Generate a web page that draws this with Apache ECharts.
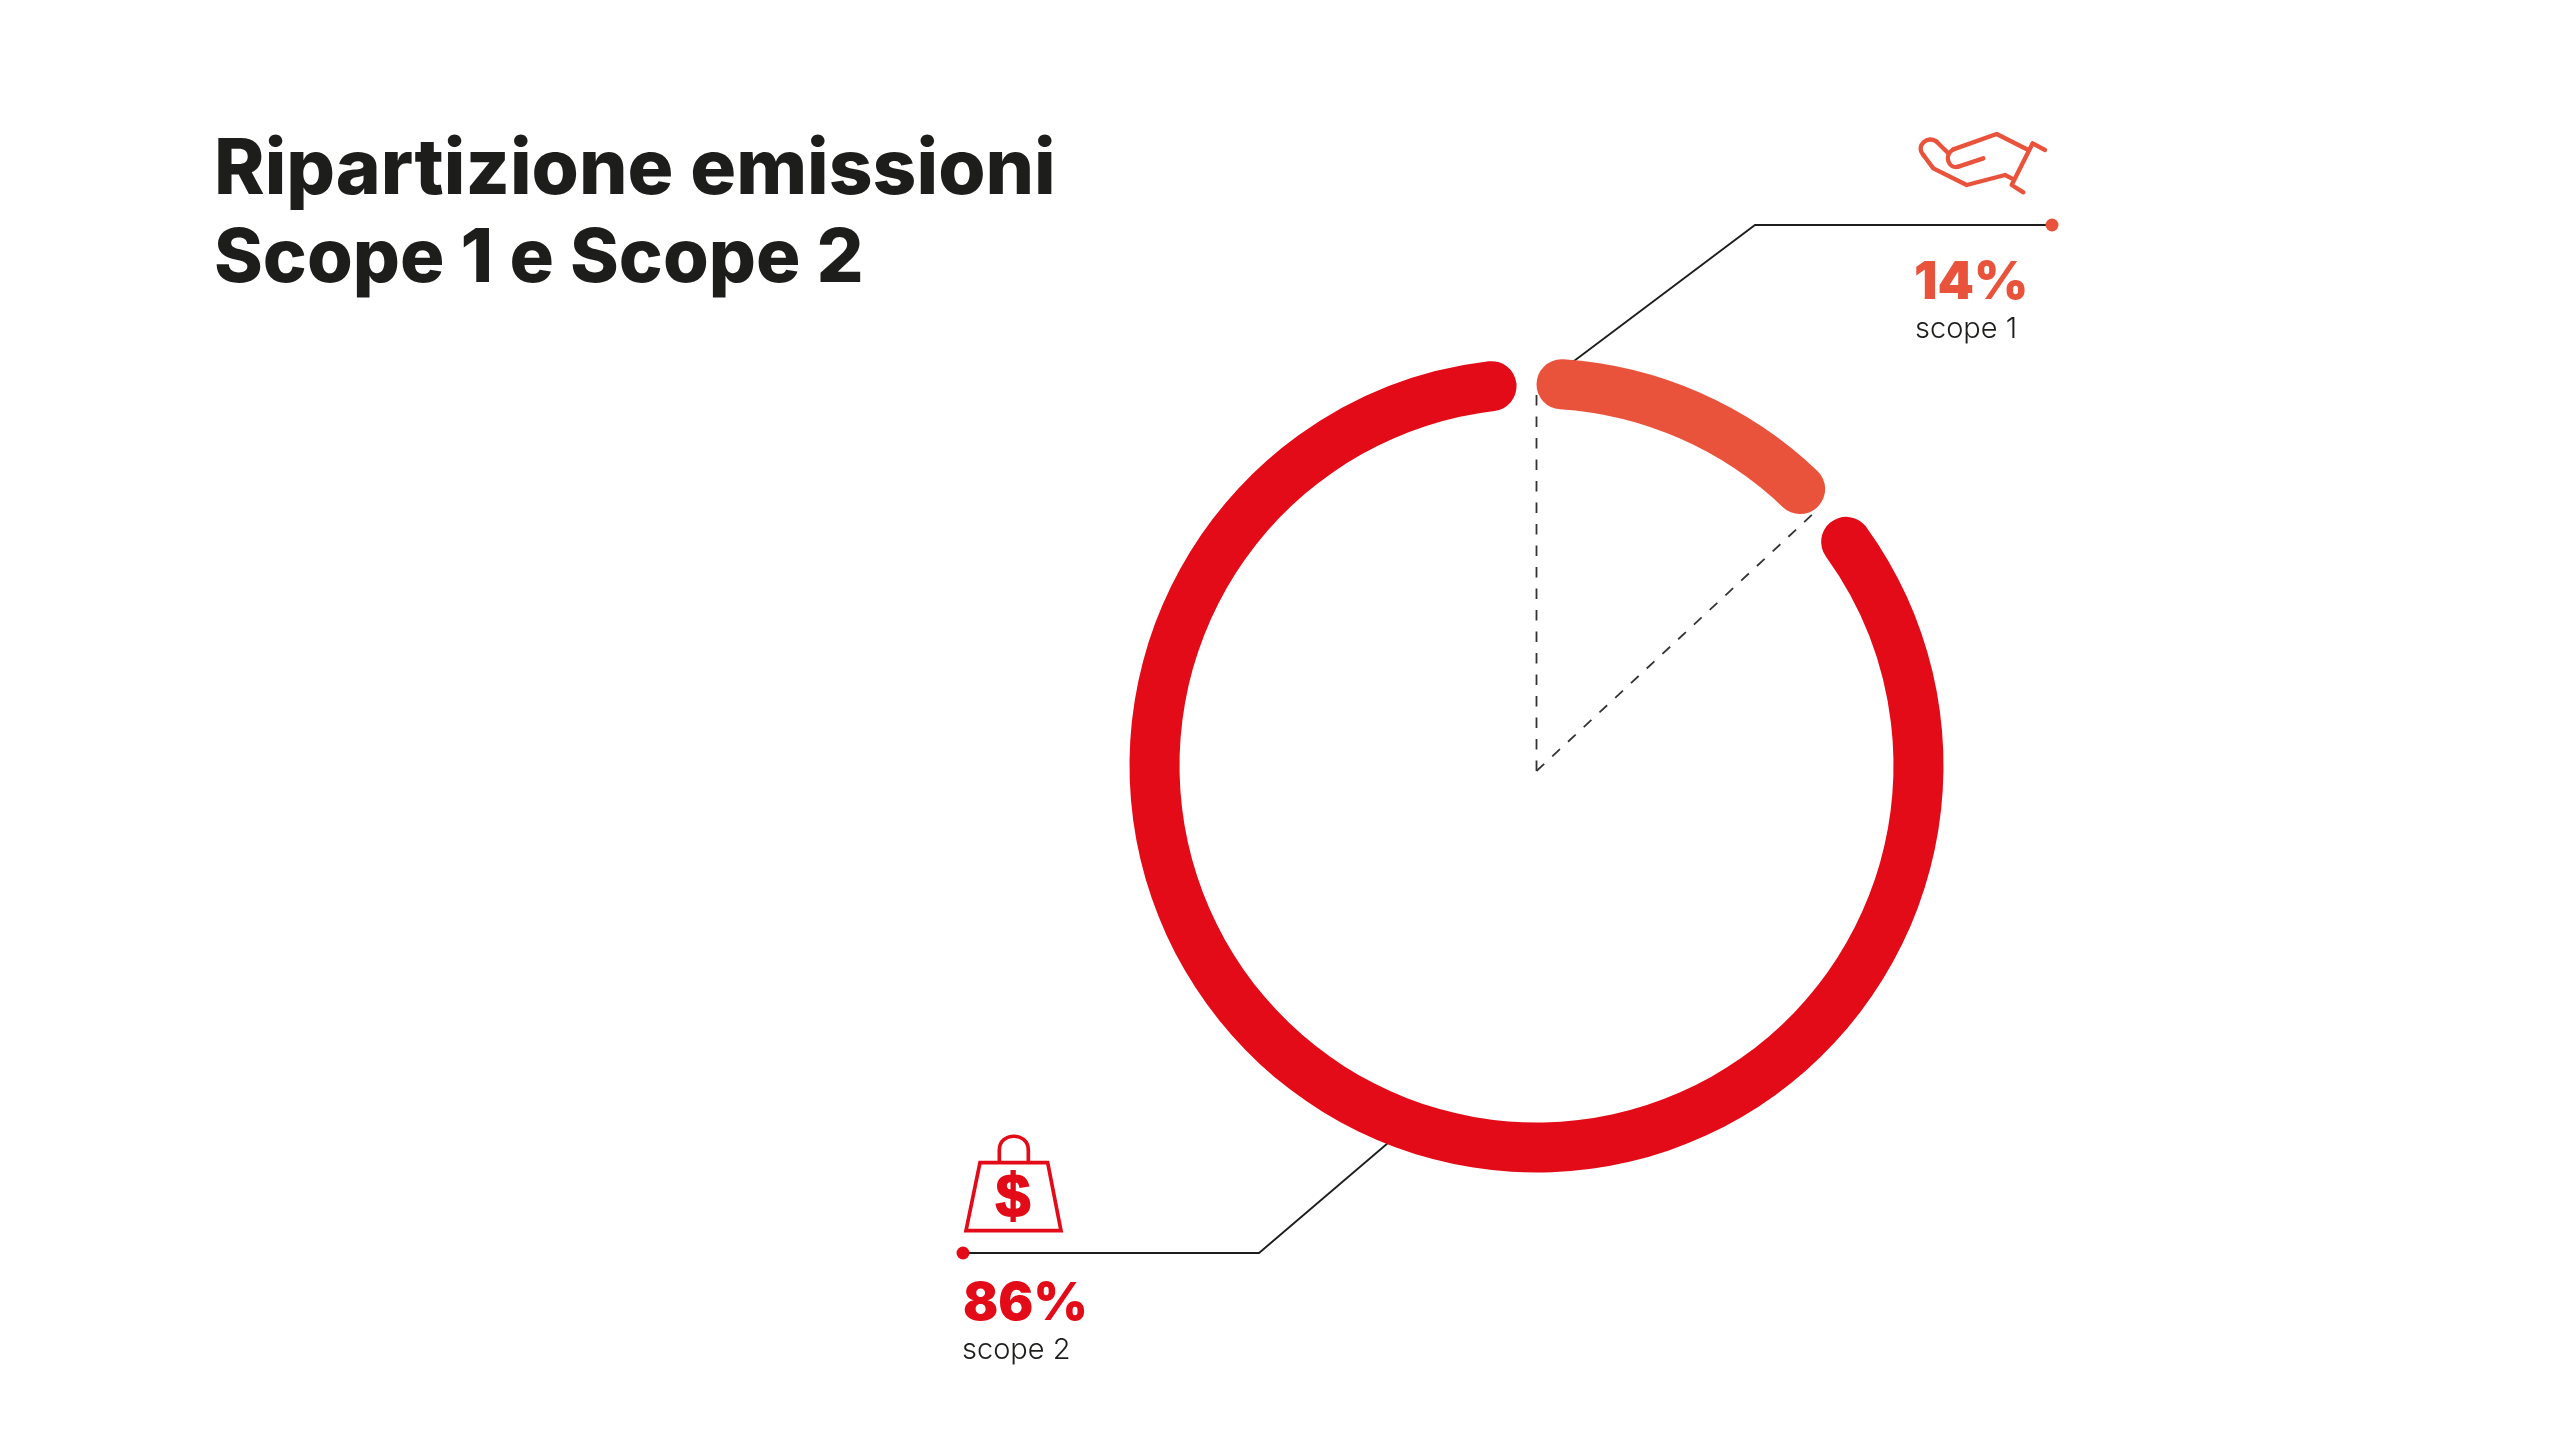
<!DOCTYPE html>
<html><head><meta charset="utf-8">
<style>html,body{margin:0;padding:0;background:#fff}#c{width:2560px;height:1441px}</style>
<script src="https://cdn.jsdelivr.net/npm/echarts@6/dist/echarts.min.js"></script>
</head><body><div id="c"></div>
<script>
const categories = ['scope 1', 'scope 2'];
const values = [14, 86];
const colors = ['#E9523B', '#E20B17'];
const titleLines = ['Ripartizione emissioni', 'Scope 1 e Scope 2'];
const chart = echarts.init(document.getElementById('c'), null, {renderer: 'canvas'});
const ink = '#1D1D1B';
function line(points, extra) {
  return {type: 'polyline', z: 0, shape: {points}, style: Object.assign({fill: null, stroke: ink, lineWidth: 1.8}, extra || {})};
}
function text(x, y, t, font, fill) {
  return {type: 'text', z: 5, x, y, style: {text: t, font, fill, verticalAlign: 'middle'}};
}
function curve(a, c1, c2, b, style) {
  return {type: 'bezierCurve', z: 5, shape: {x1: a[0], y1: a[1], cpx1: c1[0], cpy1: c1[1], cpx2: c2[0], cpy2: c2[1], x2: b[0], y2: b[1]}, style};
}
function poly(points, style) {
  return {type: 'polyline', z: 5, shape: {points}, style};
}
const titleFont = '800 76.5px Inter, sans-serif';
const titleFont2 = '800 74px Inter, sans-serif';
const pctFont = '900 52px Inter, sans-serif';
const subFont = '300 29px Inter, sans-serif';
const hand = {fill: null, stroke: colors[0], lineWidth: 13, lineCap: 'round', lineJoin: 'round'};
const bag = {fill: null, stroke: colors[1], lineWidth: 11, lineJoin: 'miter'};
chart.setOption({
  animation: false,
  backgroundColor: '#fff',
  series: [{
    type: 'pie', z: 2, silent: true,
    center: [1536.5, 765.5], radius: [357, 407],
    startAngle: 91.5, padAngle: 3, clockwise: true,
    label: {show: false}, labelLine: {show: false},
    itemStyle: {borderRadius: 25},
    data: categories.map((name, i) => ({name, value: values[i], itemStyle: {color: colors[i]}}))
  }],
  graphic: [
    text(214, 171, titleLines[0], titleFont, ink),
    text(214, 260, titleLines[1], titleFont2, ink),
    line([[1536.5, 771], [1536.5, 390]], {stroke: '#333', lineDash: [10.5, 11]}),
    line([[1536.5, 771], [1815, 512]], {stroke: '#333', lineDash: [10.5, 11]}),
    line([[1570, 364], [1755, 225], [2052, 225]]),
    line([[1395, 1137], [1259, 1253], [963, 1253]]),
    {type: 'circle', z: 3, shape: {cx: 2052, cy: 225, r: 6.5}, style: {fill: colors[0]}},
    {type: 'circle', z: 3, shape: {cx: 963, cy: 1253, r: 6.5}, style: {fill: colors[1]}},
    text(1914, 283, values[0] + '%', pctFont, colors[0]),
    text(1915, 329, categories[0], subFont, ink),
    text(963, 1304, values[1] + '%', pctFont, colors[1]),
    text(962, 1350, categories[1], subFont, ink),
    {type: 'group', x: 1880, y: 110, scaleX: 1/3, scaleY: 1/3, children: [
      poly([[310,145],[235,170]], hand),
      curve([235,170],[205,178],[190,135],[220,118], hand),
      poly([[220,118],[350,72],[445,120]], hand),
      poly([[205,130],[170,95]], hand),
      curve([170,95],[145,75],[105,105],[130,135], hand),
      poly([[130,135],[160,175],[260,225],[375,195],[395,205]], hand),
      poly([[495,120],[458,100],[395,225],[430,247]], hand)
    ]},
    {type: 'group', x: 930, y: 1120, scaleX: 1/3, scaleY: 1/3, children: [
      {type: 'polygon', z: 5, shape: {points: [[108,332],[150,128],[353,128],[393,332]]}, style: bag},
      poly([[208,128],[208,90]], bag),
      curve([208,90],[208,35],[295,35],[295,90], bag),
      poly([[295,90],[295,128]], bag)
    ]},
    {type: 'text', z: 5, x: 1013, y: 1199, style: {text: '$', font: 'bold 62px "Liberation Sans", Arial, sans-serif', fill: colors[1], stroke: colors[1], lineWidth: 2, align: 'center', verticalAlign: 'middle'}}
  ]
});
</script></body></html>
